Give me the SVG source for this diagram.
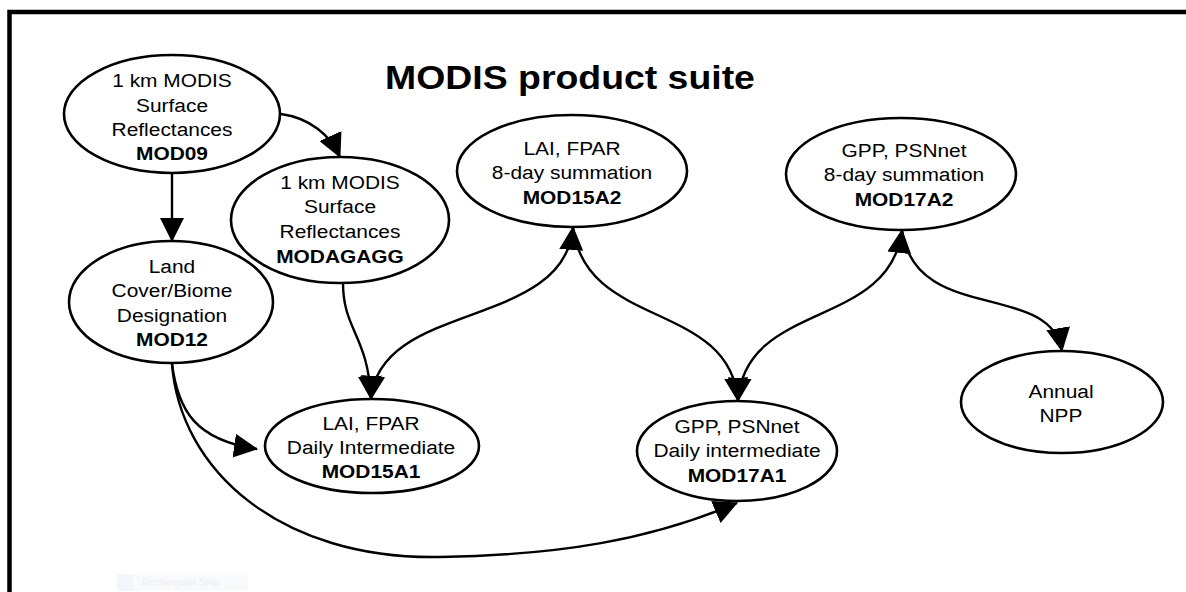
<svg xmlns="http://www.w3.org/2000/svg" width="1186" height="592" viewBox="0 0 1186 592">
<style>
  .node ellipse { fill: #ffffff; stroke: #000000; stroke-width: 2.6; }
  .node text { font-family: "Liberation Sans", Arial, sans-serif; font-size: 19px; fill: #000000; text-anchor: middle; }
  .node .b { font-weight: bold; }
  .title { font-family: "Liberation Sans", Arial, sans-serif; font-size: 34px; font-weight: bold; fill: #000000; text-anchor: middle; }
  .conn path { fill: none; stroke: #000000; stroke-width: 2.4; }
  .frame { fill: none; stroke: #000000; stroke-width: 4.5; }
</style>
<defs>
  <marker id="ah" markerUnits="userSpaceOnUse" viewBox="0 0 24 24" markerWidth="24" markerHeight="24" refX="23" refY="12" orient="auto-start-reverse">
    <path d="M0,0 L24,12 L0,24 z" fill="#000000"/>
  </marker>
</defs>
<rect x="0" y="0" width="1186" height="592" fill="#ffffff"/>
<path class="frame" d="M9.5,592 L9.5,12 L1186,12"/>
<text class="title" transform="translate(570 0) scale(1.1 1)" x="0" y="89">MODIS product suite</text>

<g id="n-mod09" class="node">
  <ellipse cx="172" cy="114" rx="108" ry="59"/>
  <text transform="translate(172 0) scale(1.1 1)"><tspan x="0" y="87">1 km MODIS</tspan><tspan x="0" y="112">Surface</tspan><tspan x="0" y="136">Reflectances</tspan><tspan x="0" y="160" class="b">MOD09</tspan></text>
</g>
<g id="n-modagagg" class="node">
  <ellipse cx="340" cy="220" rx="109" ry="63"/>
  <text transform="translate(340 0) scale(1.1 1)"><tspan x="0" y="189">1 km MODIS</tspan><tspan x="0" y="213">Surface</tspan><tspan x="0" y="238">Reflectances</tspan><tspan x="0" y="263" class="b">MODAGAGG</tspan></text>
</g>
<g id="n-mod12" class="node">
  <ellipse cx="171" cy="302" rx="102" ry="61"/>
  <text transform="translate(172 0) scale(1.1 1)"><tspan x="0" y="273">Land</tspan><tspan x="0" y="297">Cover/Biome</tspan><tspan x="0" y="322">Designation</tspan><tspan x="0" y="346" class="b">MOD12</tspan></text>
</g>
<g id="n-mod15a2" class="node">
  <ellipse cx="572" cy="171" rx="115" ry="56"/>
  <text transform="translate(572 0) scale(1.1 1)"><tspan x="0" y="155">LAI, FPAR</tspan><tspan x="0" y="179">8-day summation</tspan><tspan x="0" y="204" class="b">MOD15A2</tspan></text>
</g>
<g id="n-mod17a2" class="node">
  <ellipse cx="901" cy="174" rx="115" ry="56"/>
  <text transform="translate(904 0) scale(1.1 1)"><tspan x="0" y="157">GPP, PSNnet</tspan><tspan x="0" y="181">8-day summation</tspan><tspan x="0" y="206" class="b">MOD17A2</tspan></text>
</g>
<g id="n-mod15a1" class="node">
  <ellipse cx="372" cy="446" rx="107" ry="47"/>
  <text transform="translate(371 0) scale(1.1 1)"><tspan x="0" y="430">LAI, FPAR</tspan><tspan x="0" y="454">Daily Intermediate</tspan><tspan x="0" y="478" class="b">MOD15A1</tspan></text>
</g>
<g id="n-mod17a1" class="node">
  <ellipse cx="737" cy="451" rx="100" ry="50"/>
  <text transform="translate(737 0) scale(1.1 1)"><tspan x="0" y="433">GPP, PSNnet</tspan><tspan x="0" y="457">Daily intermediate</tspan><tspan x="0" y="482" class="b">MOD17A1</tspan></text>
</g>
<g id="n-npp" class="node">
  <ellipse cx="1062" cy="402" rx="101" ry="51"/>
  <text transform="translate(1061 0) scale(1.1 1)"><tspan x="0" y="398">Annual</tspan><tspan x="0" y="422">NPP</tspan></text>
</g>

<g id="connectors" class="conn">
  <path d="M281,114 C310,118 330,135 340,157" marker-end="url(#ah)"/>
  <path d="M172,173 L172,241" marker-end="url(#ah)"/>
  <path d="M343,283 C343,330 368,335 371,399" marker-end="url(#ah)"/>
  <path d="M573,227 C565,330 380,300 371,399" marker-start="url(#ah)" marker-end="url(#ah)"/>
  <path d="M573,227 C585,330 730,300 738,401" marker-end="url(#ah)"/>
  <path d="M902,230 C890,330 745,300 738,401" marker-start="url(#ah)" marker-end="url(#ah)"/>
  <path d="M902,230 C915,325 1050,280 1062,351" marker-end="url(#ah)"/>
  <path d="M172,364 C178,410 195,440 257,449" marker-end="url(#ah)"/>
  <path d="M172,364 C180,470 280,560 440,557 C560,555 650,540 737,503" marker-end="url(#ah)"/>
</g>

<g id="snip" opacity="0.5">
  <rect x="117" y="574" width="131" height="17" fill="#f3f6fb"/>
  <rect x="117" y="574" width="16" height="17" fill="#e9f0fa"/>
  <text x="142" y="586" font-family="'Liberation Sans', Arial, sans-serif" font-size="10" fill="#dde0e8">Rectangular Snip</text>
</g>
</svg>
